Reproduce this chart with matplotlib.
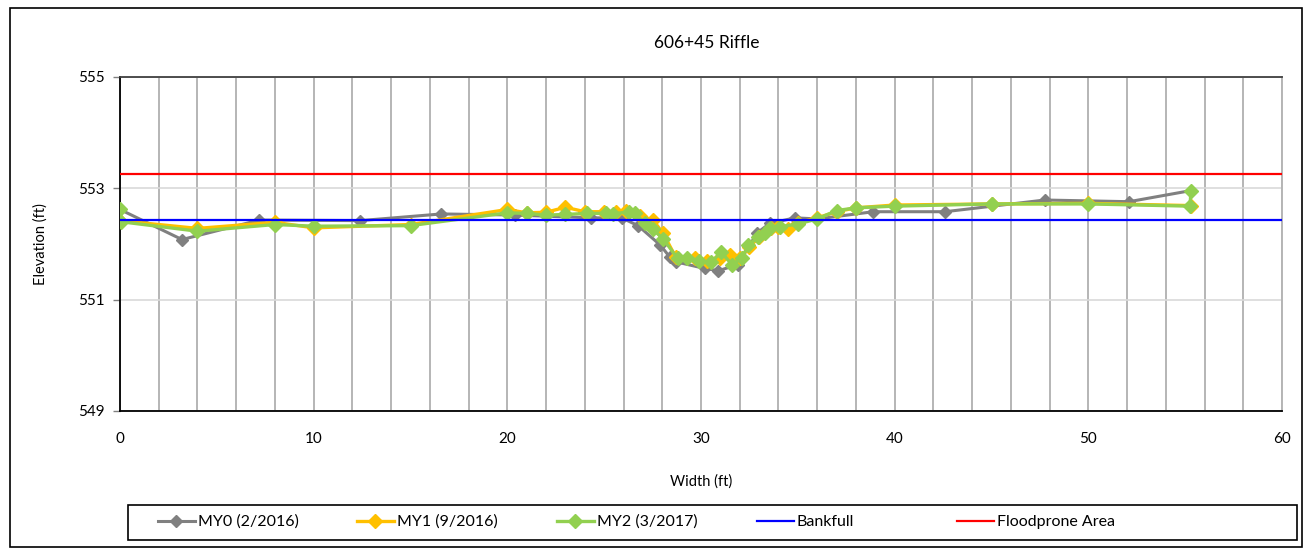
import matplotlib
matplotlib.use("Agg")
import matplotlib.pyplot as plt
from matplotlib.patches import Rectangle
from matplotlib.ticker import MultipleLocator

plt.rcParams['font.family'] = ['Lato', 'DejaVu Sans']

title = "606+45 Riffle"
x_label = "Width (ft)"
y_label = "Elevation (ft)"
y_ticks = [549, 551, 553, 555]

my0_x = [0, 3.2, 7.2, 12.4, 16.6, 20.4, 24.3, 25.9, 26.75, 27.9, 28.4, 28.7, 30.2, 30.9,
         31.9, 32.9, 33.55, 34.85, 36.0, 38.9, 42.6, 47.75, 52.1, 55.3]
my0_y = [552.62, 552.08, 552.43, 552.42, 552.54, 552.52, 552.47, 552.47, 552.33, 551.98,
         551.76, 551.68, 551.56, 551.52, 551.63, 552.2, 552.37, 552.47, 552.45, 552.58,
         552.58, 552.79, 552.76, 552.96]

my1_x = [0, 4, 8, 10, 15, 20, 21, 22, 23, 24, 25, 25.6, 26.15, 26.85, 27.5, 28.05, 28.7,
         29.7, 30.3, 31.0, 31.5, 32.0, 32.5, 33.0, 33.6, 34.0, 34.5, 35.0, 36.0, 37.0, 38.0,
         40.0, 45.0, 50.0, 55.3]
my1_y = [552.42, 552.28, 552.39, 552.29, 552.35, 552.62, 552.56, 552.57, 552.66, 552.58,
         552.58, 552.58, 552.6, 552.5, 552.44, 552.19, 551.76, 551.74, 551.7, 551.74, 551.8,
         551.74, 551.95, 552.12, 552.28, 552.3, 552.27, 552.38, 552.47, 552.58, 552.65,
         552.7, 552.72, 552.73, 552.69]

my2_x = [0, 0.05, 4, 8, 10, 15, 20, 21, 22, 23, 24.1, 25.1, 25.45, 26.3, 26.6, 27.1, 27.5,
         28.05, 28.8, 29.3, 29.9, 30.5, 31.05, 31.6, 32.1, 32.45, 32.95, 33.3, 33.55, 34.1,
         35.0, 36.0, 37.0, 38.0, 40.0, 45.0, 50.0, 55.25, 55.3]
my2_y = [552.62, 552.4, 552.23, 552.35, 552.32, 552.33, 552.56, 552.55, 552.52, 552.53,
         552.55, 552.55, 552.54, 552.58, 552.55, 552.37, 552.27, 552.09, 551.74, 551.75,
         551.7, 551.67, 551.85, 551.63, 551.74, 551.98, 552.12, 552.2, 552.28, 552.31,
         552.36, 552.45, 552.6, 552.65, 552.68, 552.72, 552.72, 552.68, 552.96]

bankfull_x = [0, 60]
bankfull_y = [552.43, 552.43]
floodprone_x = [0, 60]
floodprone_y = [553.26, 553.26]

series_labels = ["MY0 (2/2016)", "MY1 (9/2016)", "MY2 (3/2017)", "Bankfull", "Floodprone Area"]

W, H = 1304, 548
fig = plt.figure(figsize=(W / 100, H / 100), dpi=100)
ax = fig.add_axes([120 / W, 1 - 411 / H, (1282 - 120) / W, (411 - 77) / H])

h0, = ax.plot(my0_x, my0_y, color='#808080', lw=2.2, marker='D', ms=6, zorder=3)
h1, = ax.plot(my1_x, my1_y, color='#FFC000', lw=2.4, marker='D', ms=7, zorder=4)
h2, = ax.plot(my2_x, my2_y, color='#92D050', lw=2.4, marker='D', ms=7, zorder=5)
h3, = ax.plot(bankfull_x, bankfull_y, color='#0000FF', lw=1.6, zorder=6)
h4, = ax.plot(floodprone_x, floodprone_y, color='#FF0000', lw=1.6, zorder=7)

ax.set_xlim(0, 60)
ax.set_ylim(549, 555)
ax.xaxis.set_major_locator(MultipleLocator(10))
ax.xaxis.set_minor_locator(MultipleLocator(2))
ax.set_yticks(y_ticks)

ax.grid(True, which='minor', axis='x', color='#b5b5b5', lw=1.4, zorder=0)
ax.grid(True, which='major', axis='x', color='#b5b5b5', lw=1.4, zorder=0)
ax.grid(True, which='major', axis='y', color='#d9d9d9', lw=1.2, zorder=0)
ax.set_axisbelow(True)

for s in ['left', 'bottom']:
    ax.spines[s].set_color('black')
    ax.spines[s].set_linewidth(1.3)
ax.spines['top'].set_color('#404040')
ax.spines['top'].set_linewidth(1.3)
ax.spines['right'].set_color('#b5b5b5')
ax.spines['right'].set_linewidth(1.4)

ax.tick_params(axis='x', which='both', length=0, pad=15, labelsize=11)
ax.tick_params(axis='y', which='major', length=5, width=1, pad=6, labelsize=11, color='#808080')

ax.set_xlabel(x_label, fontsize=10.5)
ax.set_ylabel(y_label, fontsize=10.5)
ax.xaxis.set_label_coords(0.5, -0.19)
ax.yaxis.set_label_coords(-0.062, 0.5)

ax.text(0.505, 1.102, title, transform=ax.transAxes, ha='center', va='center', fontsize=12.5)

# legend box
fig.patches.append(Rectangle((128 / W, 1 - 540 / H), (1297 - 128) / W, 35 / H,
                             transform=fig.transFigure, fill=False, ec='black', lw=1.2))
# outer chart border
fig.patches.append(Rectangle((10 / W, 1 - 547 / H), 1292 / W, 539 / H,
                             transform=fig.transFigure, fill=False, ec='black', lw=1.2))

handles = [h0, h1, h2, h3, h4]
starts = [158, 357, 557, 757, 957]
for h, lab, sx in zip(handles, series_labels, starts):
    fig.legend([h], [lab], loc='center left', bbox_to_anchor=(sx / W, 1 - 522 / H),
               frameon=False, borderpad=0, borderaxespad=0, handlelength=2.3,
               handletextpad=0.2, fontsize=11.5)

fig.savefig("out.png", dpi=100)
